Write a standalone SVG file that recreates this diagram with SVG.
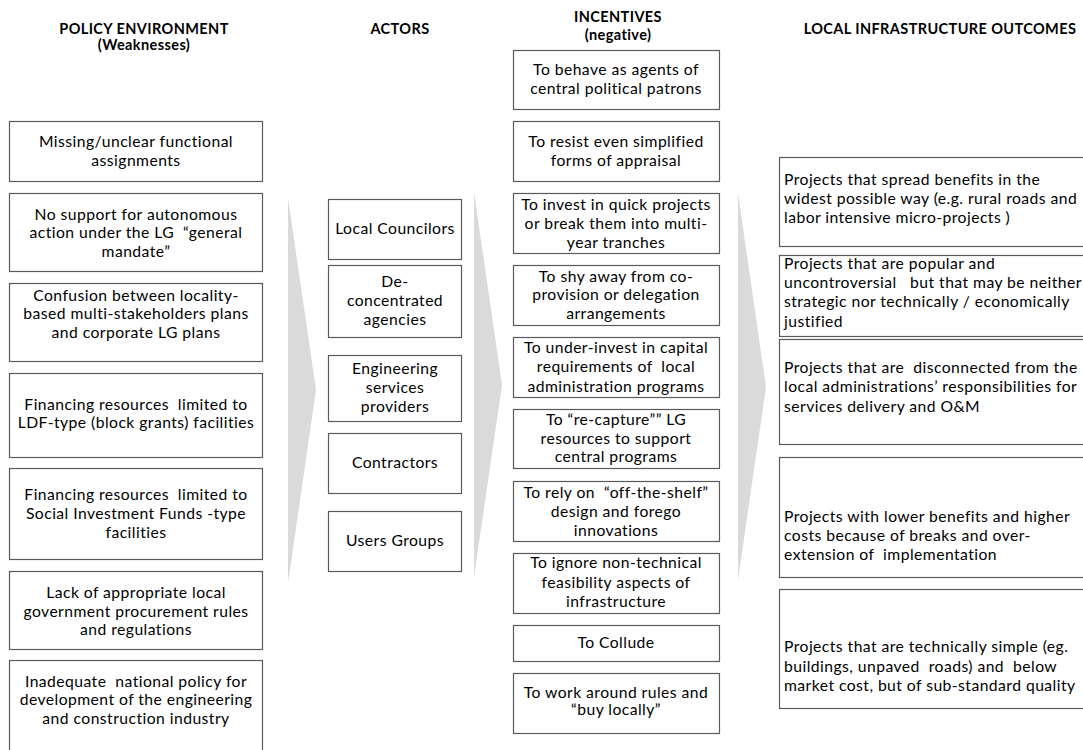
<svg xmlns="http://www.w3.org/2000/svg" width="1083" height="750" viewBox="0 0 1083 750" xml:space="preserve">
<style>
.bx{fill:#fff;stroke:#5a5a5a;stroke-width:1.2}
.t{font-family:Lato,"Liberation Sans",sans-serif;font-size:15.7px;letter-spacing:0.45px;fill:#000;text-anchor:middle;white-space:pre}
.l{text-anchor:start}
.h{font-family:Lato,"Liberation Sans",sans-serif;font-size:14.5px;letter-spacing:0.4px;font-weight:bold;fill:#000;text-anchor:middle}
.ar{fill:#dadada}
</style>
<rect width="1083" height="750" fill="#fff"/>
<g id="connectors">
<polygon class="ar" points="288,198 316,390 288,583"/>
<polygon class="ar" points="474,192 502,385 474,577"/>
<polygon class="ar" points="738,193 766,387 738,580"/>
</g>
<g id="headers">
<text class="h" x="144" y="34">POLICY ENVIRONMENT</text>
<text class="h" x="144" y="50">(Weaknesses)</text>
<text class="h" x="400" y="34">ACTORS</text>
<text class="h" x="618" y="22">INCENTIVES</text>
<text class="h" x="618" y="40">(negative)</text>
<text class="h" x="940" y="34">LOCAL INFRASTRUCTURE OUTCOMES</text>
</g>
<g id="p1"><rect class="bx" x="9.5" y="121.5" width="253" height="60"/><text class="t" x="136" y="147">Missing/unclear functional</text><text class="t" x="136" y="166">assignments</text></g>
<g id="p2"><rect class="bx" x="9.5" y="193.5" width="253" height="78"/><text class="t" x="136" y="220">No support for autonomous</text><text class="t" x="136" y="238">action under the LG  “general</text><text class="t" x="136" y="257">mandate”</text></g>
<g id="p3"><rect class="bx" x="9.5" y="283.5" width="253" height="78"/><text class="t" x="136" y="301">Confusion between locality-</text><text class="t" x="136" y="319">based multi-stakeholders plans</text><text class="t" x="136" y="338">and corporate LG plans</text></g>
<g id="p4"><rect class="bx" x="9.5" y="373.5" width="253" height="84"/><text class="t" x="136" y="410">Financing resources  limited to</text><text class="t" x="136" y="428">LDF-type (block grants) facilities</text></g>
<g id="p5"><rect class="bx" x="9.5" y="468.5" width="253" height="91"/><text class="t" x="136" y="500">Financing resources  limited to</text><text class="t" x="136" y="519">Social Investment Funds -type</text><text class="t" x="136" y="538">facilities</text></g>
<g id="p6"><rect class="bx" x="9.5" y="571.5" width="253" height="78"/><text class="t" x="136" y="598">Lack of appropriate local</text><text class="t" x="136" y="617">government procurement rules</text><text class="t" x="136" y="635">and regulations</text></g>
<g id="p7"><rect class="bx" x="9.5" y="660.5" width="253" height="100"/><text class="t" x="136" y="687">Inadequate  national policy for</text><text class="t" x="136" y="705">development of the engineering</text><text class="t" x="136" y="724">and construction industry</text></g>
<g id="a1"><rect class="bx" x="328.5" y="199.5" width="133" height="60"/><text class="t" x="395" y="234">Local Councilors</text></g>
<g id="a2"><rect class="bx" x="328.5" y="265.5" width="133" height="72"/><text class="t" x="395" y="287">De-</text><text class="t" x="395" y="306">concentrated</text><text class="t" x="395" y="325">agencies</text></g>
<g id="a3"><rect class="bx" x="328.5" y="355.5" width="133" height="66"/><text class="t" x="395" y="374">Engineering</text><text class="t" x="395" y="393">services</text><text class="t" x="395" y="412">providers</text></g>
<g id="a4"><rect class="bx" x="328.5" y="433.5" width="133" height="60"/><text class="t" x="395" y="468">Contractors</text></g>
<g id="a5"><rect class="bx" x="328.5" y="511.5" width="133" height="60"/><text class="t" x="395" y="546">Users Groups</text></g>
<g id="i1"><rect class="bx" x="513.5" y="50.5" width="206" height="59"/><text class="t" x="616" y="75">To behave as agents of</text><text class="t" x="616" y="94">central political patrons</text></g>
<g id="i2"><rect class="bx" x="513.5" y="121.5" width="206" height="60"/><text class="t" x="616" y="147">To resist even simplified</text><text class="t" x="616" y="166">forms of appraisal</text></g>
<g id="i3"><rect class="bx" x="513.5" y="193.5" width="206" height="60"/><text class="t" x="616" y="210">To invest in quick projects</text><text class="t" x="616" y="229">or break them into multi-</text><text class="t" x="616" y="248">year tranches</text></g>
<g id="i4"><rect class="bx" x="513.5" y="265.5" width="206" height="60"/><text class="t" x="616" y="282">To shy away from co-</text><text class="t" x="616" y="300">provision or delegation</text><text class="t" x="616" y="319">arrangements</text></g>
<g id="i5"><rect class="bx" x="513.5" y="337.5" width="206" height="60"/><text class="t" x="616" y="353">To under-invest in capital</text><text class="t" x="616" y="372">requirements of  local</text><text class="t" x="616" y="392">administration programs</text></g>
<g id="i6"><rect class="bx" x="513.5" y="409.5" width="206" height="59"/><text class="t" x="616" y="425">To “re-capture”” LG</text><text class="t" x="616" y="444">resources to support</text><text class="t" x="616" y="462">central programs</text></g>
<g id="i7"><rect class="bx" x="513.5" y="481.5" width="206" height="60"/><text class="t" x="616" y="498">To rely on  “off-the-shelf”</text><text class="t" x="616" y="517">design and forego</text><text class="t" x="616" y="536">innovations</text></g>
<g id="i8"><rect class="bx" x="513.5" y="553.5" width="206" height="60"/><text class="t" x="616" y="568">To ignore non-technical</text><text class="t" x="616" y="588">feasibility aspects of</text><text class="t" x="616" y="607">infrastructure</text></g>
<g id="i9"><rect class="bx" x="513.5" y="625.5" width="206" height="36"/><text class="t" x="616" y="648">To Collude</text></g>
<g id="i10"><rect class="bx" x="513.5" y="673.5" width="206" height="60"/><text class="t" x="616" y="698">To work around rules and</text><text class="t" x="616" y="715">“buy locally”</text></g>
<g id="o1"><rect class="bx" x="779.5" y="157.5" width="320" height="89"/><text class="t l" x="784" y="185">Projects that spread benefits in the</text><text class="t l" x="784" y="204">widest possible way (e.g. rural roads and</text><text class="t l" x="784" y="223">labor intensive micro-projects )</text></g>
<g id="o2"><rect class="bx" x="779.5" y="255.5" width="320" height="81"/><text class="t l" x="784" y="269">Projects that are popular and</text><text class="t l" x="784" y="288">uncontroversial   but that may be neither</text><text class="t l" x="784" y="307">strategic nor technically / economically</text><text class="t l" x="784" y="327">justified</text></g>
<g id="o3"><rect class="bx" x="779.5" y="339.5" width="320" height="105"/><text class="t l" x="784" y="373">Projects that are  disconnected from the</text><text class="t l" x="784" y="392">local administrations’ responsibilities for</text><text class="t l" x="784" y="412">services delivery and O&amp;M</text></g>
<g id="o4"><rect class="bx" x="779.5" y="457.5" width="320" height="120"/><text class="t l" x="784" y="522">Projects with lower benefits and higher</text><text class="t l" x="784" y="541">costs because of breaks and over-</text><text class="t l" x="784" y="560">extension of  implementation</text></g>
<g id="o5"><rect class="bx" x="779.5" y="589.5" width="320" height="119"/><text class="t l" x="784" y="652">Projects that are technically simple (eg.</text><text class="t l" x="784" y="672">buildings, unpaved  roads) and  below</text><text class="t l" x="784" y="691">market cost, but of sub-standard quality</text></g>
</svg>
